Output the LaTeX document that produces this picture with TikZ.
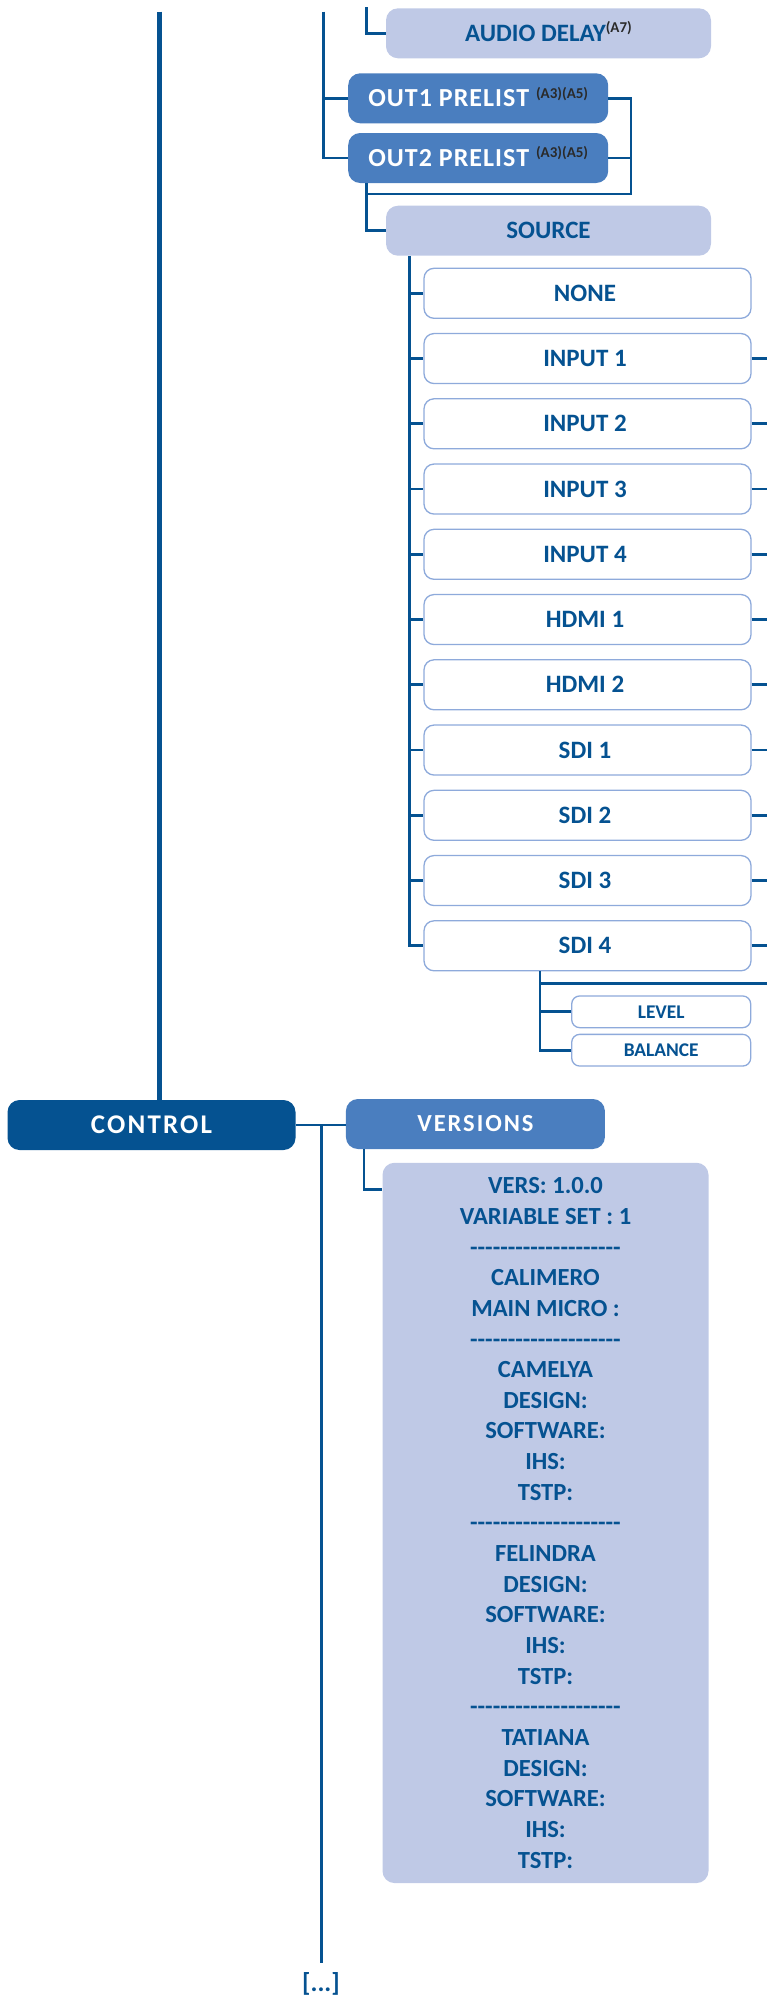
\documentclass[tikz,border=0pt]{standalone}
\usepackage{fontspec}
\setmainfont{Carlito}
\newfontfamily\trackA{Carlito}[LetterSpace=4]
\newfontfamily\trackB{Carlito}[LetterSpace=8]
\definecolor{dkblue}{HTML}{055291}
\definecolor{midblue}{HTML}{4A7EBF}
\definecolor{lightfill}{HTML}{BFC9E6}
\definecolor{wborder}{HTML}{8EAADB}
\definecolor{supc}{HTML}{2A2A2A}
\newcommand\hy{\mbox{-}}
\newcommand\dashrow{\hy\hy\hy\hy\hy\hy\hy\hy\hy\hy\hy\hy\hy\hy\hy\hy\hy\hy\hy\hy}
\newcommand\supx[1]{\textcolor{supc}{\raisebox{8.5pt}{\normalfont\bfseries\fontsize{15}{15}\selectfont #1}}}
\begin{document}
\begin{tikzpicture}[x=1pt,y=-1pt,
  conn/.style={draw=dkblue,line width=2.8pt},
  mainconn/.style={draw=dkblue,line width=5pt},
  boxfont/.style={font=\bfseries\fontsize{25}{30.65}\selectfont},
  basebox/.style={rectangle,rounded corners=12pt,inner sep=0pt,anchor=center,boxfont,
     text height=16.1pt,text depth=0pt},
  lightbox/.style={basebox,fill=lightfill,text=dkblue},
  midbox/.style={basebox,fill=midblue,text=white,font=\trackA\bfseries\fontsize{26}{30}\selectfont,text height=16.7pt},
  darkbox/.style={basebox,fill=dkblue,text=white,font=\trackB\bfseries\fontsize{27}{30}\selectfont,text height=17.4pt},
  whitebox/.style={basebox,rounded corners=10pt,fill=white,draw=wborder,line width=1.3pt,text=dkblue},
  smallbox/.style={whitebox,rounded corners=8pt,font=\bfseries\fontsize{19.4}{21}\selectfont,text height=12.5pt}
]
\useasboundingbox (0,0) rectangle (766,1995);

% reference coordinates
\coordinate (ctop) at (159.8,11.7);
\coordinate (l2top) at (323.7,11.7);
\coordinate (l3top) at (366.7,7.3);
\coordinate (br) at (631,194);
\coordinate (sx) at (409.4,0);
\coordinate (re) at (767,0);
\coordinate (ux) at (540,0);
\coordinate (hbar) at (540,983.3);
\coordinate (vx) at (364,0);
\coordinate (vb) at (321.4,1963);

% nodes
\node[lightbox,minimum width=325pt,minimum height=50pt] (audio) at (548.5,33.3) {AUDIO DELAY\supx{(A7)}};
\node[midbox,minimum width=260pt,minimum height=50pt] (out1) at (478.2,98.3) {OUT1 PRELIST \supx{(A3)(A5)}};
\node[midbox,minimum width=260pt,minimum height=50pt] (out2) at (478.2,158) {OUT2 PRELIST \supx{(A3)(A5)}};
\node[lightbox,minimum width=325pt,minimum height=50pt] (source) at (548.5,230.7) {SOURCE};
\foreach \t [count=\i from 0] in {NONE,INPUT 1,INPUT 2,INPUT 3,INPUT 4,HDMI 1,HDMI 2,SDI 1,SDI 2,SDI 3,SDI 4}
  \node[whitebox,minimum width=327pt,minimum height=50pt] (s\i) at (587.5,293.3+65.25*\i) {\t\hspace*{5pt}};
\node[smallbox,minimum width=179pt,minimum height=31.7pt] (level) at (661.2,1011.8) {LEVEL};
\node[smallbox,minimum width=179pt,minimum height=31.7pt] (balance) at (661.2,1050.2) {BALANCE};
\node[darkbox,minimum width=288pt,minimum height=50pt] (control) at (151.5,1125) {CONTROL};
\node[midbox,minimum width=259pt,minimum height=50pt,font=\trackB\bfseries\fontsize{24.5}{30}\selectfont,text height=15.8pt] (versions) at (475.4,1124) {VERSIONS};
\node[rectangle,rounded corners=12pt,inner sep=0pt,fill=lightfill,text=dkblue,align=center,
      font=\bfseries\fontsize{24.6}{30.65}\selectfont,
      minimum width=326pt,minimum height=720.3pt] (verinfo) at (545.5,1522.9)
  {VERS: 1.0.0\\VARIABLE SET : 1\\\dashrow\\CALIMERO\\MAIN MICRO :\\\dashrow\\CAMELYA\\DESIGN:\\SOFTWARE:\\IHS:\\TSTP:\\\dashrow\\FELINDRA\\DESIGN:\\SOFTWARE:\\IHS:\\TSTP:\\\dashrow\\TATIANA\\DESIGN:\\SOFTWARE:\\IHS:\\TSTP:};
\node[font=\bfseries\fontsize{26}{30}\selectfont,text=dkblue,inner sep=0pt] (more) at (321,1983.5) {[...]};

% connectors
\draw[mainconn] (ctop) -- (ctop |- control.north);
\draw[conn] (l2top) |- (out2.west);
\draw[conn] (l2top |- out1.west) -- (out1.west);
\draw[conn] (l3top) |- (audio.west);
\draw[conn] (out1.east) -| (br) -- (br -| l3top);
\draw[conn] (out2.east) -- (out2.east -| br);
\draw[conn] (out2.south -| l3top) |- (source.west);
\draw[conn] (source.south -| sx) |- (s10.west);
\foreach \i in {0,...,9} \draw[conn] (s\i.west -| sx) -- (s\i.west);
\foreach \i in {1,...,10} \draw[conn] (s\i.east) -- (s\i.east -| re);
\draw[conn] (s10.south -| ux) |- (balance.west);
\draw[conn] (ux |- level.west) -- (level.west);
\draw[conn] (hbar) -- (hbar -| re);
\draw[conn] (control.east) -- (versions.west |- control.east);
\draw[conn] (vb |- control.east) -- (vb);
\draw[conn] (versions.south -| vx) |- ([yshift=-26.6pt]verinfo.north west);
\end{tikzpicture}
\end{document}
